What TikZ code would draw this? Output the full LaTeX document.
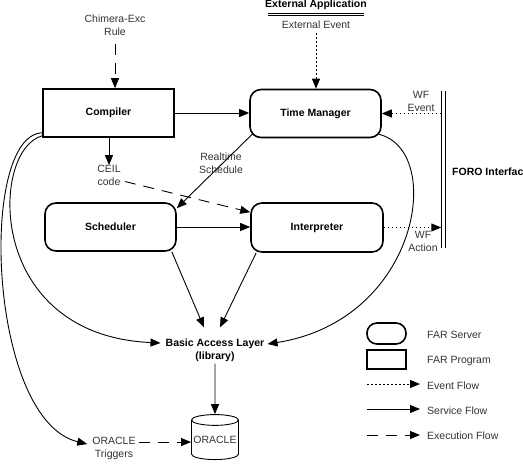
\documentclass[tikz,border=0pt]{standalone}
\usepackage{fontspec}
\setmainfont{Liberation Sans}
\usetikzlibrary{arrows.meta,shapes.geometric,calc}
\definecolor{lblgray}{HTML}{333333}
\begin{document}
\begin{tikzpicture}[x=1pt,y=-1pt,
  every node/.style={font=\fontsize{10.5}{13}\selectfont, inner sep=0pt},
  prog/.style={draw, line width=1.6pt, minimum width=131pt, minimum height=48pt, font=\fontsize{10.5}{13}\selectfont\bfseries},
  serv/.style={draw, line width=1.6pt, rounded corners=11pt, minimum width=131pt, minimum height=48pt, font=\fontsize{10.5}{13}\selectfont\bfseries},
  lbl/.style={text=lblgray, align=center},
  bld/.style={align=center, font=\fontsize{10.5}{13}\selectfont\bfseries},
  tip/.style={-{Triangle[length=10pt,width=8pt]}},
  svc/.style={tip, line width=0.9pt},
  evt/.style={tip, line width=0.9pt, dash pattern=on 1.5pt off 2.5pt},
  exe/.style={tip, line width=0.9pt, dash pattern=on 11pt off 8pt},
]
\useasboundingbox (0,0) rectangle (523,464);

% main nodes
\node[prog] (comp) at (108.5,113) {Compiler};
\node[serv] (tm) at (315.5,113.5) {Time Manager};
\node[serv] (sch) at (110.5,227) {Scheduler};
\node[serv, minimum width=132pt, minimum height=49pt] (int) at (317,227.5) {Interpreter};

% labels
\node[lbl] (chim) at (115,25) {Chimera-Exc\\Rule};
\node[bld] (extapp) at (316,5) {External Application};
\node[lbl] (extev) at (316,25) {External Event};
\node[lbl] (wfev) at (421,101) {WF\\Event};
\node[lbl] (wfact) at (423,241) {WF\\Action};
\node[lbl] (ceil) at (109,175.5) {CEIL\\code};
\node[lbl] (rts) at (221,163.5) {Realtime\\Schedule};
\node[bld] (bal) at (215,350) {Basic Access Layer\\(library)};
\node[lbl] (otrig) at (114,448.5) {ORACLE\\Triggers};
\node[cylinder, shape border rotate=90, draw, line width=0.9pt, aspect=0.25,
      minimum width=47pt, minimum height=45pt, text=lblgray] (ora) at (215,440) {ORACLE};

% FORO interface
\node[minimum width=4pt, minimum height=157pt] (forobar) at (443.5,169.5) {};
\draw[line width=0.9pt] (forobar.north west) -- (forobar.south west);
\draw[line width=0.9pt] (forobar.north east) -- (forobar.south east);
\node[bld, anchor=west] (forotxt) at (452,172) {FORO Interface};

% External application underline
\coordinate (eaL) at (268,14.5);
\coordinate (eaR) at (364,14.5);
\draw[line width=0.8pt, double, double distance=1.2pt] (eaL) -- (eaR);

% connectors
\draw[exe] (chim.south) ++(0,8) -- (comp.north -| chim.south);
\draw[evt] (extev.south) ++(0,4) -- (tm.north -| extev.south);
\draw[svc] (comp.east) -- (tm.west |- comp.east);
\draw[svc] (comp.south -| ceil.north) -- (ceil.north);
\draw[svc] ($(tm.south west)+(4,-5)$) -- ($(sch.north east)+(0,6)$);
\draw[exe] ($(ceil.east)+(4,6)$) -- ($(int.north west)+(0,10)$);
\draw[svc] (sch.east) -- (int.west |- sch.east);
\draw[svc] ($(sch.south east)+(-5,0)$) -- ($(bal.north)+(-11,-11)$);
\draw[svc] ($(int.south west)+(6,0)$) -- ($(bal.north)+(5,-11)$);
\draw[svc] (bal.south) ++(0,2) -- (ora.north);
\draw[evt] (forobar.west |- tm.east) -- (tm.east);
\draw[evt] (int.east) -- (forobar.west |- int.east);
\draw[exe] ($(otrig.north east)+(3,5)$) -- (ora.west |- {$(otrig.north east)+(3,5)$});

% curves
\draw[svc] ($(comp.south west)+(0,-5)$) .. controls (-22,135) and (-12,420) .. ($(otrig.north west)+(-5,7)$);
\draw[svc] ($(comp.south west)+(0,-2)$) .. controls (-10,150) and (-15,335) .. ($(bal.west)+(-5,-7)$);
\draw[svc] ($(tm.south east)+(-3,-4)$) .. controls (445,150) and (420,320) .. ($(bal.east)+(3,-6)$);

% legend
\node[draw, line width=1.6pt, rounded corners=10pt, minimum width=39pt, minimum height=21pt] (lserv) at (386.5,333.5) {};
\node[draw, line width=1.6pt, minimum width=39pt, minimum height=19pt] (lprog) at (386.5,359.5) {};
\node[lbl, anchor=west] (tserv) at (427,335) {FAR Server};
\node[lbl, anchor=west] (tprog) at (427,361) {FAR Program};
\node[lbl, anchor=west] (tevt) at (427,386) {Event Flow};
\node[lbl, anchor=west] (tsvc) at (427,411) {Service Flow};
\node[lbl, anchor=west] (texe) at (427,436) {Execution Flow};
\coordinate (le1) at (367,384);
\coordinate (ls1) at (367,409);
\coordinate (lx1) at (367,435);
\draw[evt] (le1) -- ($(le1 -| tevt.west)+(-7,0)$);
\draw[svc] (ls1) -- ($(ls1 -| tsvc.west)+(-7,0)$);
\draw[exe] (lx1) -- ($(lx1 -| texe.west)+(-7,0)$);
\end{tikzpicture}
\end{document}
